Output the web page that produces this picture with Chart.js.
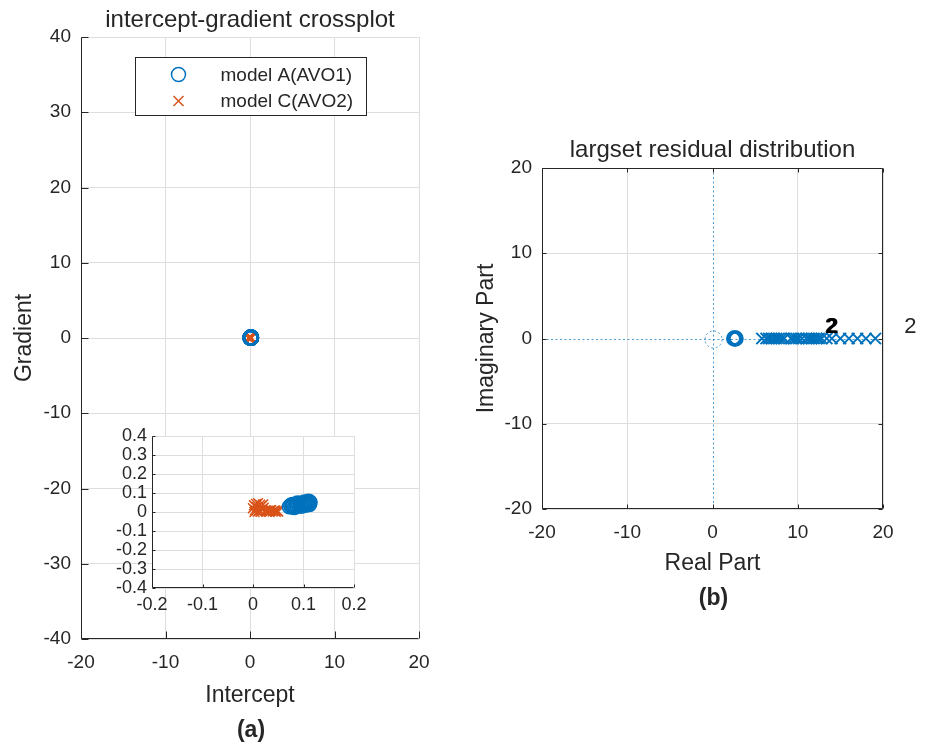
<!DOCTYPE html>
<html>
<head>
<meta charset="utf-8">
<title>AVO crossplot and residual distribution</title>
<script src="https://cdn.jsdelivr.net/npm/chart.js@4.4.0/dist/chart.umd.min.js"></script>
<style>
  html, body { margin: 0; padding: 0; background: #ffffff; }
  #wrap { position: relative; width: 927px; height: 745px; overflow: hidden; }
  #wrap canvas { position: absolute; left: 0; top: 0; }
</style>
</head>
<body>
<div id="wrap">
  <canvas id="cross" width="927" height="745"></canvas>
  <canvas id="zoomin" width="927" height="745"></canvas>
  <canvas id="resid" width="927" height="745"></canvas>
</div>
<script>
// ---- (a) intercept / gradient pairs ----
const seriesNames = ['model A(AVO1)', 'model C(AVO2)'];

const modelA_intercept = [0.072, 0.075, 0.078, 0.080, 0.083, 0.085, 0.087, 0.089, 0.091, 0.093, 0.095, 0.097,
                          0.099, 0.101, 0.103, 0.105, 0.107, 0.109, 0.111, 0.113, 0.086, 0.094, 0.102, 0.108,
                          0.078, 0.082, 0.088, 0.096, 0.104, 0.110, 0.112, 0.075];
const modelA_gradient  = [0.028, 0.032, 0.026, 0.035, 0.030, 0.038, 0.033, 0.040, 0.036, 0.042, 0.038, 0.045,
                          0.041, 0.047, 0.043, 0.049, 0.045, 0.050, 0.047, 0.052, 0.030, 0.046, 0.052, 0.042,
                          0.040, 0.024, 0.048, 0.030, 0.036, 0.056, 0.040, 0.036];

const modelC_intercept = [0.000, 0.002, 0.004, 0.006, 0.008, 0.010, 0.012, 0.014, 0.016, 0.018, 0.020, 0.003,
                          0.009, 0.015, 0.021, 0.024, 0.027, 0.030, 0.033, 0.036, 0.039, 0.042, 0.045, 0.048,
                          0.050, 0.026, 0.034, 0.044];
const modelC_gradient  = [0.020, 0.035, 0.010, 0.042, 0.025, 0.046, 0.005, 0.038, 0.030, 0.015, 0.040, 0.000,
                          0.002, 0.001, 0.022, 0.008, 0.002, 0.006, 0.001, 0.009, 0.003, 0.007, 0.001, 0.005,
                          0.002, 0.004, 0.009, 0.008];

// ---- (b) zeros / poles of the largest residual ----
const zeroReal = [2.55, 2.7];
const zeroImag = [0, 0];
const poleReal = [5.8, 6.3, 6.6, 6.9, 7.2, 7.5, 7.8, 8.1, 8.4, 9.2, 9.5, 9.8, 10.1, 10.5, 11.0, 11.3,
                  11.6, 11.9, 12.2, 12.5, 12.8, 13.4, 14.0, 15.0, 16.0, 17.0, 18.0, 19.1];
const poleImag = [0, 0, 0, 0, 0, 0, 0, 0, 0, 0, 0, 0, 0, 0, 0, 0,
                  0, 0, 0, 0, 0, 0, 0, 0, 0, 0, 0, 0];
// multiplicity annotations
const multText = ['2', '2', '2'];
const multReal = [13.9, 14.05, 23.2];
const multImag = [0.65, 0.65, 0.65];

// ---- tick labels ----
const interceptTicks = [-20, -10, 0, 10, 20];
const gradientTicks  = [-40, -30, -20, -10, 0, 10, 20, 30, 40];
const insetXTicks    = [-0.2, -0.1, 0, 0.1, 0.2];
const insetYTicks    = [-0.4, -0.3, -0.2, -0.1, 0, 0.1, 0.2, 0.3, 0.4];
const realTicks      = [-20, -10, 0, 10, 20];
const imagTicks      = [-20, -10, 0, 10, 20];

// ---- styling ----
const INK = '#262626';
const GRID = '#dedede';
const BLUE = '#0072BD';
const BLUE_DOT = 'rgba(0,114,189,0.7)';
const ORANGE = '#D95319';
const FONT = '"Liberation Sans", Arial, Helvetica, sans-serif';

const pairs = (xs, ys) => xs.map((x, i) => ({ x: x, y: ys[i] }));

function linScale(pos, ticks, min, max, fontPx, pad, fixed, skipZeroGrid) {
  return {
    type: 'linear',
    position: pos,
    min: min,
    max: max,
    afterBuildTicks: s => { s.ticks = ticks.map(v => ({ value: v })); },
    afterFit: s => { if (pos === 'left') { s.width = fixed; } else { s.height = fixed; } },
    grid: {
      color: c => (skipZeroGrid && c.tick && c.tick.value === 0) ? 'rgba(0,0,0,0)' : GRID,
      lineWidth: 1,
      drawTicks: false
    },
    border: { display: false },
    ticks: {
      color: INK,
      font: { family: FONT, size: fontPx },
      padding: pad,
      autoSkip: false,
      maxRotation: 0,
      minRotation: 0,
      callback: v => String(v)
    }
  };
}

// axis lines, inward tick marks, free text and legend
function frame(cfg) {
  return {
    id: 'frame',
    beforeDraw(chart) {
      const ctx = chart.ctx, a = chart.chartArea;
      ctx.save();
      ctx.fillStyle = '#ffffff';
      if (cfg.fillPage) ctx.fillRect(0, 0, chart.width, chart.height);
      if (cfg.fillArea) ctx.fillRect(a.left, a.top, a.right - a.left, a.bottom - a.top);
      ctx.restore();
    },
    beforeDatasetsDraw(chart) {
      if (cfg.under) cfg.under(chart);
    },
    afterDatasetsDraw(chart) {
      const ctx = chart.ctx, a = chart.chartArea;
      const sx = chart.scales.x, sy = chart.scales.y;
      const L = Math.round(a.left) + 0.5, R = Math.round(a.right) - 0.5;
      const T = Math.round(a.top) + 0.5, B = Math.round(a.bottom) - 0.5;
      const t = cfg.tick;
      ctx.save();
      ctx.strokeStyle = INK;
      ctx.lineWidth = 1;
      ctx.beginPath();
      ctx.moveTo(L, T); ctx.lineTo(L, B); ctx.lineTo(R, B);
      if (cfg.box) { ctx.lineTo(R, T); ctx.lineTo(L, T); }
      sy.ticks.forEach(k => {
        const py = Math.round(sy.getPixelForValue(k.value)) + 0.5;
        ctx.moveTo(L, py); ctx.lineTo(L + t, py);
        if (cfg.box) { ctx.moveTo(R, py); ctx.lineTo(R - t, py); }
      });
      sx.ticks.forEach(k => {
        const px = Math.round(sx.getPixelForValue(k.value)) + 0.5;
        ctx.moveTo(px, B); ctx.lineTo(px, B - t);
        if (cfg.box) { ctx.moveTo(px, T); ctx.lineTo(px, T + t); }
      });
      ctx.stroke();
      ctx.restore();
    },
    afterDraw(chart) {
      const ctx = chart.ctx, a = chart.chartArea;
      (cfg.texts || []).forEach(it => {
        const p = it.at(a, chart);
        ctx.save();
        ctx.font = it.font;
        ctx.fillStyle = it.color || INK;
        ctx.textAlign = 'center';
        ctx.textBaseline = 'alphabetic';
        ctx.translate(p[0], p[1]);
        if (it.rotate) ctx.rotate(it.rotate);
        ctx.fillText(it.text, 0, 0);
        ctx.restore();
      });
      if (cfg.legend) cfg.legend(chart);
    }
  };
}

function drawMarker(ctx, ds, x, y) {
  ctx.save();
  ctx.strokeStyle = ds.borderColor;
  ctx.lineWidth = 1.5;
  ctx.beginPath();
  if (ds.pointStyle === 'circle') {
    ctx.arc(x, y, 7, 0, Math.PI * 2);
  } else {
    const d = 5;
    ctx.moveTo(x - d, y - d); ctx.lineTo(x + d, y + d);
    ctx.moveTo(x + d, y - d); ctx.lineTo(x - d, y + d);
  }
  ctx.stroke();
  ctx.restore();
}

const common = {
  responsive: false,
  animation: false,
  devicePixelRatio: 1,
  events: [],
  plugins: { legend: { display: false }, tooltip: { enabled: false }, title: { display: false } }
};

function datasetsA(radiusO, bwO, radiusX, bwX) {
  return [
    {
      label: seriesNames[0],
      data: pairs(modelA_intercept, modelA_gradient),
      pointStyle: 'circle',
      pointRadius: radiusO,
      pointBorderWidth: bwO,
      borderColor: BLUE,
      pointBorderColor: BLUE,
      pointBackgroundColor: 'rgba(0,0,0,0)',
      showLine: false
    },
    {
      label: seriesNames[1],
      data: pairs(modelC_intercept, modelC_gradient),
      pointStyle: 'crossRot',
      pointRadius: radiusX,
      pointBorderWidth: bwX,
      borderColor: ORANGE,
      pointBorderColor: ORANGE,
      pointBackgroundColor: ORANGE,
      showLine: false
    }
  ];
}

// ---- (a) main crossplot ----
new Chart(document.getElementById('cross'), {
  type: 'scatter',
  data: { datasets: datasetsA(7, 2.5, 7, 2.5) },
  options: Object.assign({}, common, {
    layout: { padding: { left: 0, top: 37, right: 508, bottom: 0 } },
    scales: {
      x: linScale('bottom', interceptTicks, -20, 20, 19, 12, 106),
      y: linScale('left', gradientTicks, -40, 40, 19, 10, 81)
    }
  }),
  plugins: [frame({
    fillPage: true,
    box: false,
    tick: 7,
    texts: [
      { text: 'intercept-gradient crossplot', font: '24px ' + FONT, at: a => [(a.left + a.right) / 2, a.top - 10] },
      { text: 'Intercept', font: '23px ' + FONT, at: a => [(a.left + a.right) / 2, a.bottom + 63] },
      { text: '(a)', font: 'bold 23px ' + FONT, at: a => [(a.left + a.right) / 2 + 1, a.bottom + 98] },
      { text: 'Gradient', font: '23px ' + FONT, rotate: -Math.PI / 2, at: a => [a.left - 50, (a.top + a.bottom) / 2] }
    ],
    legend(chart) {
      const ctx = chart.ctx, a = chart.chartArea;
      const bx = Math.round(a.left) + 54.5, by = Math.round(a.top) + 20.5, bw = 231, bh = 58;
      ctx.save();
      ctx.fillStyle = '#ffffff';
      ctx.fillRect(bx, by, bw, bh);
      ctx.strokeStyle = INK;
      ctx.lineWidth = 1;
      ctx.strokeRect(bx, by, bw, bh);
      ctx.font = '19px ' + FONT;
      ctx.fillStyle = INK;
      ctx.textAlign = 'left';
      ctx.textBaseline = 'middle';
      chart.data.datasets.forEach((ds, i) => {
        const y = by + 17 + i * 26.5;
        drawMarker(ctx, ds, bx + 43, y);
        ctx.fillText(ds.label, bx + 85, y + 1);
      });
      ctx.restore();
    }
  })]
});

// ---- (a) enlarged inset ----
new Chart(document.getElementById('zoomin'), {
  type: 'scatter',
  data: { datasets: datasetsA(7, 1.5, 7, 1.5) },
  options: Object.assign({}, common, {
    layout: { padding: { left: 0, top: 436, right: 573, bottom: 0 } },
    scales: {
      x: linScale('bottom', insetXTicks, -0.2, 0.2, 18, 6, 157),
      y: linScale('left', insetYTicks, -0.4, 0.4, 18, 5, 152)
    }
  }),
  plugins: [frame({ fillArea: true, box: false, tick: 3, texts: [] })]
});

// ---- (b) zero / pole plot ----
new Chart(document.getElementById('resid'), {
  type: 'scatter',
  data: {
    datasets: [
      {
        label: 'zeros',
        data: pairs(zeroReal, zeroImag),
        pointStyle: 'circle',
        pointRadius: 6.5,
        pointBorderWidth: 3.5,
        borderColor: BLUE,
        pointBorderColor: BLUE,
        pointBackgroundColor: 'rgba(0,0,0,0)',
        showLine: false
      },
      {
        label: 'poles',
        data: pairs(poleReal, poleImag),
        pointStyle: 'crossRot',
        pointRadius: 8,
        pointBorderWidth: 2,
        borderColor: BLUE,
        pointBorderColor: BLUE,
        pointBackgroundColor: BLUE,
        showLine: false
      }
    ]
  },
  options: Object.assign({}, common, {
    layout: { padding: { left: 0, top: 168, right: 44, bottom: 0 } },
    scales: {
      x: linScale('bottom', realTicks, -20, 20, 19, 12, 236, true),
      y: linScale('left', imagTicks, -20, 20, 19, 10, 542, true)
    }
  }),
  plugins: [frame({
    box: true,
    tick: 4,
    under(chart) {
      // real and imaginary axes plus the unit circle, dotted
      const ctx = chart.ctx, a = chart.chartArea;
      const sx = chart.scales.x, sy = chart.scales.y;
      const x0 = Math.round(sx.getPixelForValue(0)) + 0.5;
      const y0 = Math.round(sy.getPixelForValue(0)) + 0.5;
      const r = sx.getPixelForValue(1) - sx.getPixelForValue(0);
      ctx.save();
      ctx.strokeStyle = BLUE_DOT;
      ctx.lineWidth = 1;
      ctx.setLineDash([2, 2.5]);
      ctx.beginPath();
      ctx.moveTo(x0, a.top); ctx.lineTo(x0, a.bottom);
      ctx.moveTo(a.left, y0); ctx.lineTo(a.right, y0);
      ctx.stroke();
      ctx.beginPath();
      ctx.arc(x0, y0, r, 0, Math.PI * 2);
      ctx.stroke();
      ctx.restore();
    },
    texts: [
      { text: 'largset residual distribution', font: '24px ' + FONT, at: a => [(a.left + a.right) / 2, a.top - 11] },
      { text: 'Real Part', font: '23px ' + FONT, at: a => [(a.left + a.right) / 2, a.bottom + 61] },
      { text: '(b)', font: 'bold 23px ' + FONT, at: a => [(a.left + a.right) / 2 + 1, a.bottom + 96] },
      { text: 'Imaginary Part', font: '23px ' + FONT, rotate: -Math.PI / 2, at: a => [a.left - 49, (a.top + a.bottom) / 2] }
    ].concat(multText.map((s, i) => ({
      text: s,
      font: (i < 2 ? 'bold ' : '') + '22px ' + FONT,
      color: i < 2 ? '#000000' : INK,
      at: (a, chart) => [chart.scales.x.getPixelForValue(multReal[i]), chart.scales.y.getPixelForValue(multImag[i])]
    })))
  })]
});
</script>
</body>
</html>
